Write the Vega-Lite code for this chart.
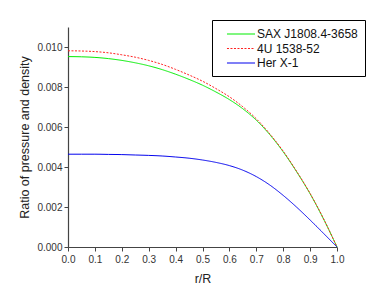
{
  "$schema": "https://vega.github.io/schema/vega-lite/v6.json",
  "width": 269,
  "height": 220,
  "autosize": {"type": "none"},
  "padding": {"left": 68, "top": 27, "right": 45, "bottom": 58},
  "config": {
    "font": "Liberation Sans",
    "view": {"stroke": null},
    "axis": {"grid": false, "domainColor": "#444444", "tickColor": "#444444", "labelColor": "#333333", "titleColor": "#222222", "labelFontSize": 10, "titleFontSize": 12.5, "titleFontWeight": "normal", "tickSize": 4, "domainWidth": 1.2}
  },
  "data": {"values": [
    {"r": 0.0, "v": 0.00952, "s": "SAX J1808.4-3658"},
    {"r": 0.05, "v": 0.00951, "s": "SAX J1808.4-3658"},
    {"r": 0.1, "v": 0.00948, "s": "SAX J1808.4-3658"},
    {"r": 0.15, "v": 0.00942, "s": "SAX J1808.4-3658"},
    {"r": 0.2, "v": 0.00933, "s": "SAX J1808.4-3658"},
    {"r": 0.25, "v": 0.00921, "s": "SAX J1808.4-3658"},
    {"r": 0.3, "v": 0.00906, "s": "SAX J1808.4-3658"},
    {"r": 0.35, "v": 0.00887, "s": "SAX J1808.4-3658"},
    {"r": 0.4, "v": 0.00864, "s": "SAX J1808.4-3658"},
    {"r": 0.45, "v": 0.00838, "s": "SAX J1808.4-3658"},
    {"r": 0.5, "v": 0.00809, "s": "SAX J1808.4-3658"},
    {"r": 0.55, "v": 0.00775, "s": "SAX J1808.4-3658"},
    {"r": 0.6, "v": 0.00737, "s": "SAX J1808.4-3658"},
    {"r": 0.65, "v": 0.00691, "s": "SAX J1808.4-3658"},
    {"r": 0.7, "v": 0.00634, "s": "SAX J1808.4-3658"},
    {"r": 0.75, "v": 0.00562, "s": "SAX J1808.4-3658"},
    {"r": 0.8, "v": 0.00476, "s": "SAX J1808.4-3658"},
    {"r": 0.85, "v": 0.00376, "s": "SAX J1808.4-3658"},
    {"r": 0.9, "v": 0.00266, "s": "SAX J1808.4-3658"},
    {"r": 0.95, "v": 0.00140, "s": "SAX J1808.4-3658"},
    {"r": 1.0, "v": 0.0, "s": "SAX J1808.4-3658"},
    {"r": 0.0, "v": 0.00981, "s": "4U 1538-52"},
    {"r": 0.05, "v": 0.00980, "s": "4U 1538-52"},
    {"r": 0.1, "v": 0.00977, "s": "4U 1538-52"},
    {"r": 0.15, "v": 0.00971, "s": "4U 1538-52"},
    {"r": 0.2, "v": 0.00961, "s": "4U 1538-52"},
    {"r": 0.25, "v": 0.00949, "s": "4U 1538-52"},
    {"r": 0.3, "v": 0.00933, "s": "4U 1538-52"},
    {"r": 0.35, "v": 0.00913, "s": "4U 1538-52"},
    {"r": 0.4, "v": 0.00888, "s": "4U 1538-52"},
    {"r": 0.45, "v": 0.00860, "s": "4U 1538-52"},
    {"r": 0.5, "v": 0.00829, "s": "4U 1538-52"},
    {"r": 0.55, "v": 0.00792, "s": "4U 1538-52"},
    {"r": 0.6, "v": 0.00751, "s": "4U 1538-52"},
    {"r": 0.65, "v": 0.00701, "s": "4U 1538-52"},
    {"r": 0.7, "v": 0.00641, "s": "4U 1538-52"},
    {"r": 0.75, "v": 0.00566, "s": "4U 1538-52"},
    {"r": 0.8, "v": 0.00479, "s": "4U 1538-52"},
    {"r": 0.85, "v": 0.00378, "s": "4U 1538-52"},
    {"r": 0.9, "v": 0.00268, "s": "4U 1538-52"},
    {"r": 0.95, "v": 0.00141, "s": "4U 1538-52"},
    {"r": 1.0, "v": 0.0, "s": "4U 1538-52"},
    {"r": 0.0, "v": 0.00464, "s": "Her X-1"},
    {"r": 0.05, "v": 0.00464, "s": "Her X-1"},
    {"r": 0.1, "v": 0.00464, "s": "Her X-1"},
    {"r": 0.15, "v": 0.00463, "s": "Her X-1"},
    {"r": 0.2, "v": 0.00462, "s": "Her X-1"},
    {"r": 0.25, "v": 0.00460, "s": "Her X-1"},
    {"r": 0.3, "v": 0.00458, "s": "Her X-1"},
    {"r": 0.35, "v": 0.00455, "s": "Her X-1"},
    {"r": 0.4, "v": 0.00450, "s": "Her X-1"},
    {"r": 0.45, "v": 0.00444, "s": "Her X-1"},
    {"r": 0.5, "v": 0.00435, "s": "Her X-1"},
    {"r": 0.55, "v": 0.00423, "s": "Her X-1"},
    {"r": 0.6, "v": 0.00407, "s": "Her X-1"},
    {"r": 0.65, "v": 0.00384, "s": "Her X-1"},
    {"r": 0.7, "v": 0.00352, "s": "Her X-1"},
    {"r": 0.75, "v": 0.00310, "s": "Her X-1"},
    {"r": 0.8, "v": 0.00258, "s": "Her X-1"},
    {"r": 0.85, "v": 0.00199, "s": "Her X-1"},
    {"r": 0.9, "v": 0.00135, "s": "Her X-1"},
    {"r": 0.95, "v": 0.00068, "s": "Her X-1"},
    {"r": 1.0, "v": 0.0, "s": "Her X-1"}
  ]},
  "mark": {"type": "line", "strokeWidth": 1, "interpolate": "monotone"},
  "encoding": {
    "x": {"field": "r", "type": "quantitative", "scale": {"domain": [0, 1], "nice": false, "zero": false},
      "axis": {"title": "r/R", "values": [0, 0.1, 0.2, 0.3, 0.4, 0.5, 0.6, 0.7, 0.8, 0.9, 1.0], "format": ".1f", "labelPadding": 3, "titlePadding": 8, "labelFlush": false}},
    "y": {"field": "v", "type": "quantitative", "scale": {"domain": [0, 0.011], "nice": false},
      "axis": {"title": "Ratio of pressure and density", "values": [0, 0.002, 0.004, 0.006, 0.008, 0.01], "format": ".3f", "labelPadding": 2, "titlePadding": 5}},
    "color": {"field": "s", "type": "nominal", "sort": ["SAX J1808.4-3658", "4U 1538-52", "Her X-1"],
      "scale": {"domain": ["SAX J1808.4-3658", "4U 1538-52", "Her X-1"], "range": ["#00ee00", "#ff2020", "#0000ee"]},
      "legend": {"title": null, "orient": "none", "legendX": 144, "legendY": -7, "strokeColor": "#000000", "fillColor": "#ffffff", "padding": 7, "symbolType": "M-3.67,0L1,0", "symbolSize": 144, "symbolStrokeWidth": 1.2, "symbolOffset": 23, "labelOffset": 1, "labelFontSize": 12, "labelColor": "#111111", "rowPadding": 1.5, "labelExpr": "datum.label + '   '"}},
    "strokeDash": {"field": "s", "type": "nominal", "sort": ["SAX J1808.4-3658", "4U 1538-52", "Her X-1"],
      "scale": {"domain": ["SAX J1808.4-3658", "4U 1538-52", "Her X-1"], "range": [[1, 0], [2, 1.5], [1, 0]]},
      "legend": null}
  }
}
